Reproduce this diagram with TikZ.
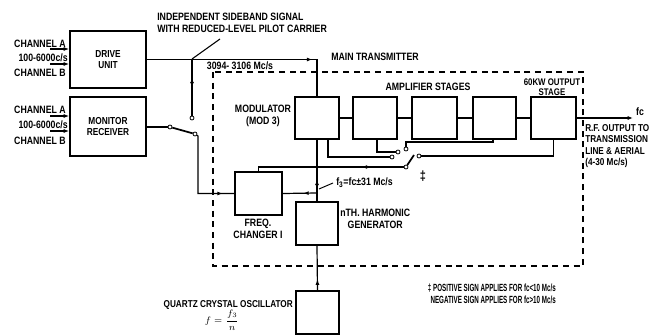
\documentclass[tikz,border=0pt]{standalone}
\usepackage{fontspec}
\newfontfamily\cond[FakeStretch=0.82]{Liberation Sans}
\newfontfamily\condn[FakeStretch=0.6]{Liberation Sans}
\usetikzlibrary{arrows.meta,decorations.markings,calc}
\begin{document}
\begin{tikzpicture}[x=0.75pt,y=-0.75pt,
  box/.style={draw,line width=1.4pt,inner sep=0pt,align=center,
    font=\cond\bfseries\fontsize{7.6}{8.6}\selectfont},
  lbl/.style={font=\cond\bfseries\fontsize{8}{8.8}\selectfont,inner sep=0pt},
  conn/.style={line width=0.9pt},
  contact/.style={circle,draw,fill=white,line width=0.6pt,inner sep=0pt,minimum size=3pt},
  frame/.style={line width=0.9pt,dash pattern=on 4.5pt off 3.5pt},
  tip/.style={-{Latex[length=4pt,width=3pt]}},
  midarrow/.style={postaction={decorate},decoration={markings,
    mark=at position #1 with {\arrow{Latex[length=4pt,width=3pt]}}}}
]
\useasboundingbox (0,0) rectangle (653,335);

% boxes
\node[box,minimum width=76*0.75pt,minimum height=57*0.75pt] (drive) at (108,59.5) {DRIVE\\UNIT};
\node[box,minimum width=76*0.75pt,minimum height=59*0.75pt] (monitor) at (108,126.5) {MONITOR\\RECEIVER};
\node[box,minimum width=44*0.75pt,minimum height=42*0.75pt] (mod) at (317,118) {};
\node[box,minimum width=44*0.75pt,minimum height=42*0.75pt] (amp1) at (375,118) {};
\node[box,minimum width=45*0.75pt,minimum height=42*0.75pt] (amp2) at (434.5,118) {};
\node[box,minimum width=43*0.75pt,minimum height=42*0.75pt] (amp3) at (494.5,118) {};
\node[box,minimum width=45*0.75pt,minimum height=42*0.75pt] (out) at (553.5,118) {};
\node[box,minimum width=47*0.75pt,minimum height=43*0.75pt] (freq) at (258.5,193.5) {};
\node[box,minimum width=42*0.75pt,minimum height=43*0.75pt] (harm) at (317,223.5) {};
\node[box,minimum width=43*0.75pt,minimum height=43*0.75pt] (osc) at (317.5,312.5) {};

% dashed main transmitter frame
\draw[frame] (213,72) rectangle (583,266);

% labels
\node[lbl,anchor=west,align=left] (isb) at (157,23) {INDEPENDENT SIDEBAND SIGNAL\\WITH REDUCED-LEVEL PILOT CARRIER};
\node[lbl,anchor=west] (mt) at (331,57) {MAIN TRANSMITTER};
\node[lbl] (band) at (240,66) {3094- 3106 Mc/s};
\node[lbl,align=center] (modl) at (263,116) {MODULATOR\\(MOD 3)};
\node[lbl] (ampl) at (428,87) {AMPLIFIER STAGES};
\node[lbl,font=\cond\bfseries\fontsize{7.2}{7.6}\selectfont,align=center] (outl) at (552,87) {60KW OUTPUT\\STAGE};
\node[lbl,font=\cond\bfseries\fontsize{7.5}{8.6}\selectfont,anchor=north west,align=left] (rfl) at (585,124) {R.F. OUTPUT TO\\TRANSMISSION\\LINE \& AERIAL\\(4-30 Mc/s)};
\node[lbl,font=\cond\bfseries\fontsize{10}{10}\selectfont] (dag) at (423,176) {‡};
\node[lbl,anchor=west] (f3l) at (336,183) {f\textsubscript{3}=fc±31 Mc/s};
\node[lbl,anchor=north west,align=center] (harml) at (340,209) {nTH. HARMONIC\\GENERATOR};
\node[lbl,align=center] (freql) at (258,229) {FREQ.\\CHANGER I};
\node[lbl,font=\cond\bfseries\fontsize{7.5}{8}\selectfont,anchor=east] (oscl) at (293,305) {QUARTZ CRYSTAL OSCILLATOR};
\node[inner sep=0pt,font=\fontsize{7.5}{8}\selectfont] (fl) at (222,320) {$f=\displaystyle\frac{f_3}{n}$};
\node[lbl,font=\condn\bfseries\fontsize{7.8}{8.6}\selectfont,anchor=east,align=right] (foot) at (556,294) {‡ POSITIVE SIGN APPLIES FOR fc<10 Mc/s\\NEGATIVE SIGN APPLIES FOR fc>10 Mc/s};
\node[lbl,anchor=east] (ca1) at (66,44) {CHANNEL A};
\node[lbl,anchor=east] (fr1) at (68,58) {100-6000c/s};
\node[lbl,anchor=east] (cb1) at (66,73) {CHANNEL B};
\node[lbl,anchor=east] (ca2) at (66,110) {CHANNEL A};
\node[lbl,anchor=east] (fr2) at (68,125) {100-6000c/s};
\node[lbl,anchor=east] (cb2) at (66,141) {CHANNEL B};
\node[lbl] (fcl) at (640,112) {fc};

% channel inputs
\coordinate (ia1) at (50,49); \coordinate (ib1) at (50,64);
\coordinate (ia2) at (50,116); \coordinate (ib2) at (50,131);
\draw[conn,tip] (ia1) -- (ia1 -| drive.west);
\draw[conn,tip] (ib1) -- (ib1 -| drive.west);
\draw[conn,tip] (ia2) -- (ia2 -| monitor.west);
\draw[conn,tip] (ib2) -- (ib2 -| monitor.west);

% drive unit output to modulator
\coordinate (j1) at (192,59);
\draw[conn,midarrow=0.8] (drive.east) -- (drive.east -| mod.north) -- (mod.north);
\node[contact] (d1) at (192,118) {};
\draw[conn,midarrow=0.5] (j1) -- (d1);
\coordinate (ld) at (220,39);
\draw[line width=0.8pt] (ld) -- (j1);

% monitor receiver switch
\node[contact] (m0) at (170,127) {};
\node[contact] (m1) at (195,134) {};
\draw[conn] (monitor.east |- m0) -- (m0);
\draw[line width=1.3pt] (m0) -- (m1);
\coordinate (m2) at (198,136);
\draw[conn,midarrow=0.88] (m1) -- (m2) |- (freq.west);

% amplifier chain
\draw[conn] (mod.east) -- (amp1.west);
\draw[conn] (amp1.east) -- (amp2.west);
\draw[conn] (amp2.east) -- (amp3.west);
\draw[conn] (amp3.east) -- (out.west);
\coordinate (fcend) at (633,118);
\draw[conn,tip] (out.east) -- (fcend);

% sampling switch
\node[contact] (c1) at (392,157) {};
\node[contact] (c2) at (398,152) {};
\node[contact] (c3) at (406,149) {};
\node[contact] (c4) at (419,156) {};
\node[contact] (p) at (406,167) {};
\coordinate (bl) at (414,155);
\draw[line width=1.3pt] (p) -- (bl);
\draw[conn] ($(mod.south)+(11,0)$) |- (c1);
\draw[conn] ($(amp1.south)+(2,0)$) |- (c2);
\draw[conn] ($(amp3.south)+(-1.5,0)$) |- (406,142) -- (c3);
\draw[conn] (out.south) |- (c4);
\draw[conn,midarrow=0.28] (p) -| (freq.north);

% harmonic generator, freq changer, oscillator
\coordinate (j2) at (317,193);
\draw[conn,midarrow=0.35] (harm.north) -- (mod.south);
\draw[conn,midarrow=0.4] (j2) -- (freq.east);
\draw[conn,midarrow=0.24] (osc.north) -- (harm.south);
\coordinate (l1) at (333,183); \coordinate (l2) at (319,189);
\draw[line width=0.7pt] (l1) -- (l2);
\end{tikzpicture}
\end{document}
